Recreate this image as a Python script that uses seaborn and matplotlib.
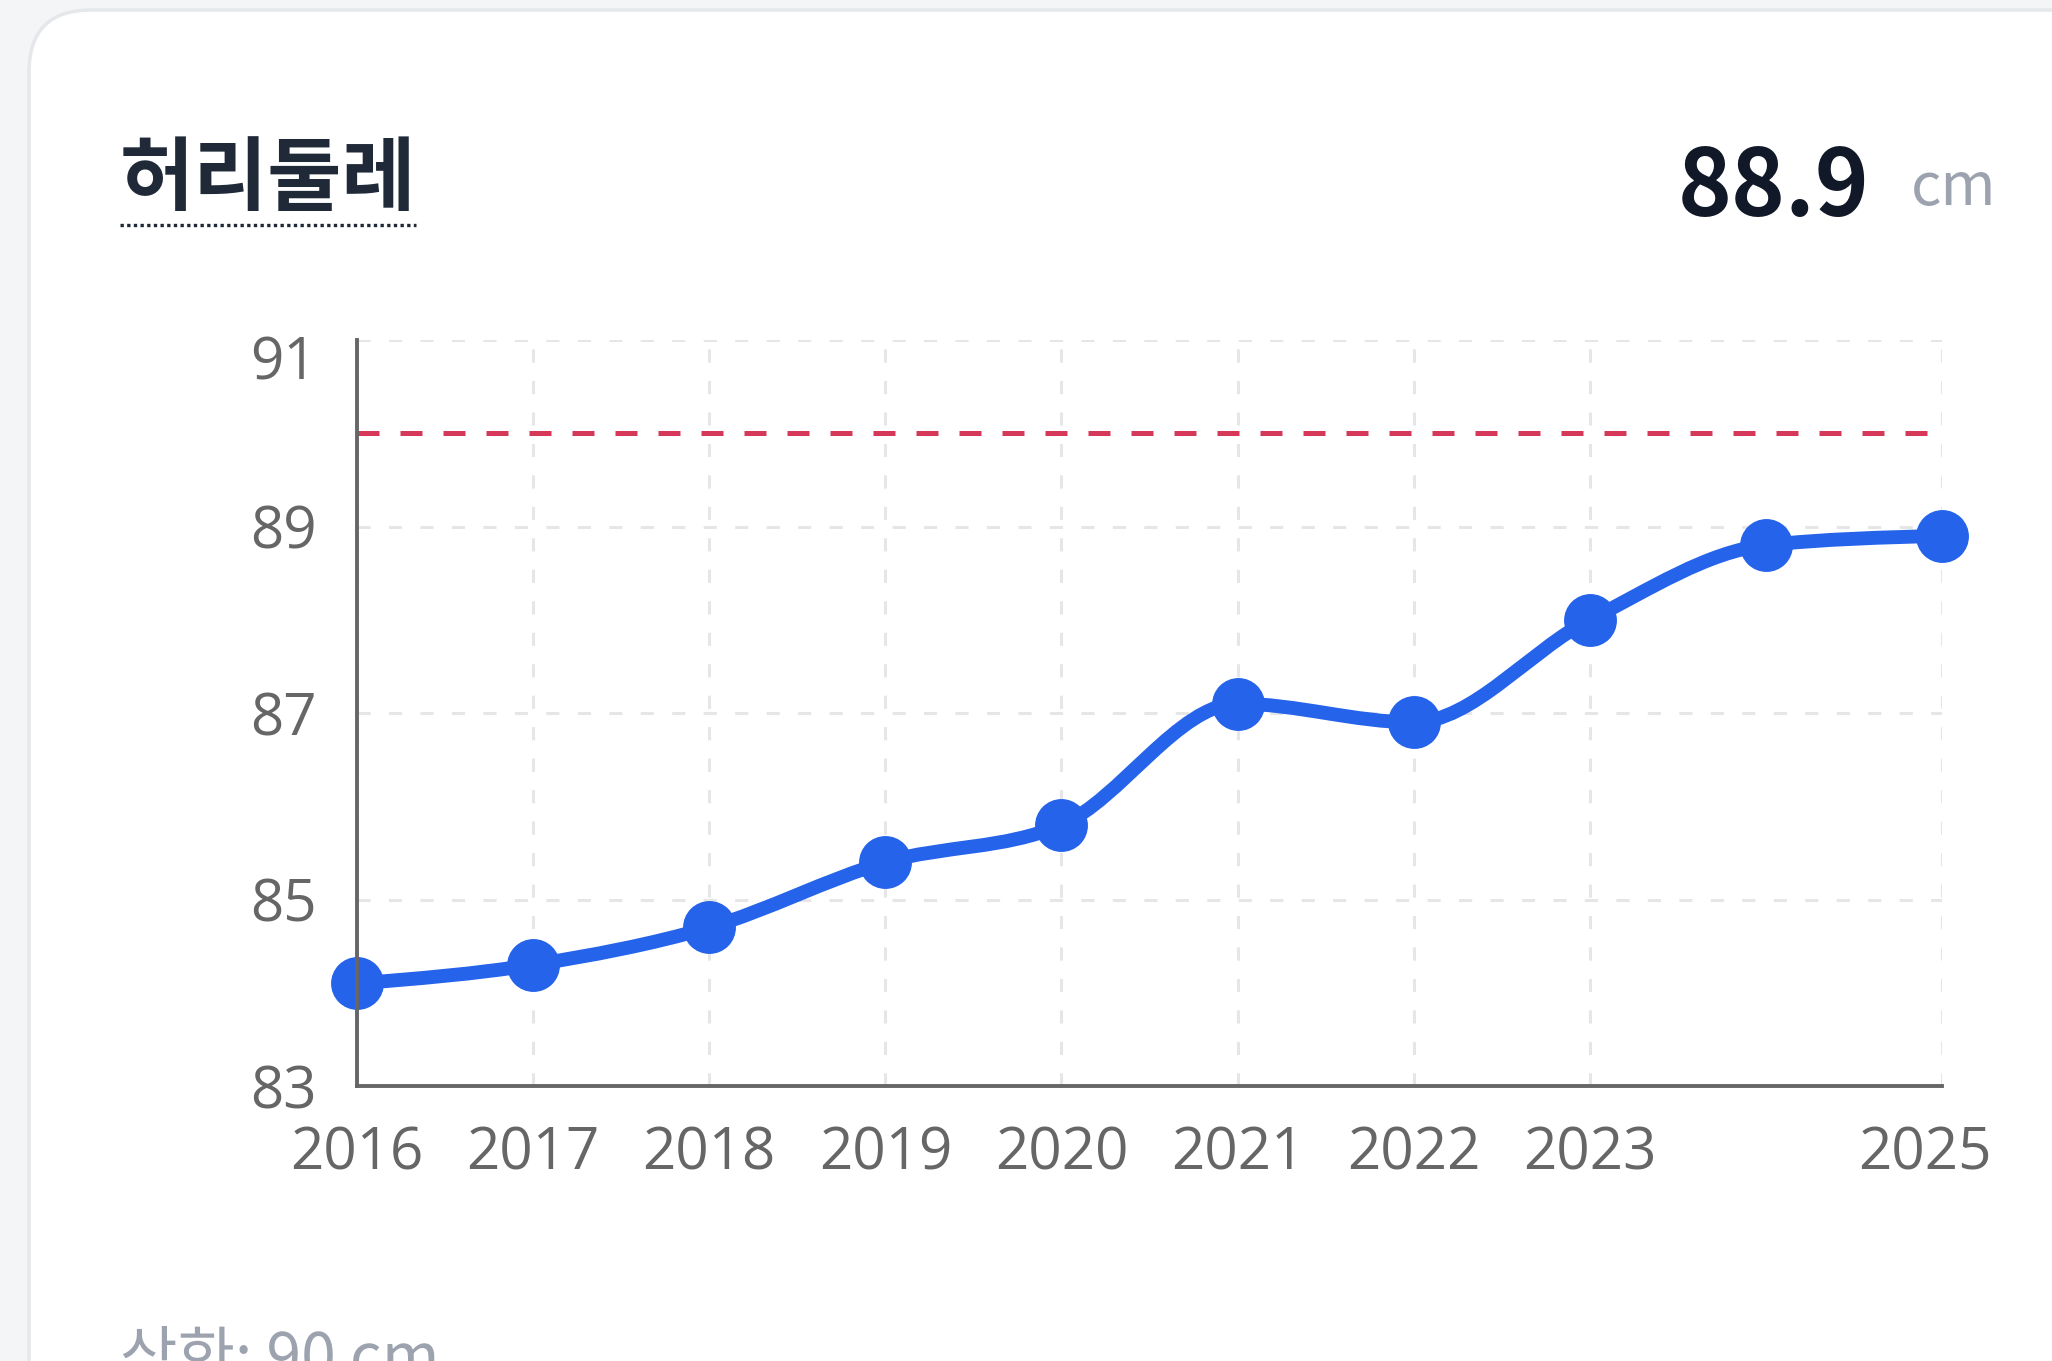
import numpy as np
import matplotlib
matplotlib.use("Agg")
import matplotlib.pyplot as plt
import matplotlib.transforms as mtransforms
import seaborn as sns
from matplotlib.path import Path
from matplotlib.patches import PathPatch, FancyBboxPatch
from matplotlib.lines import Line2D

# ------------------ Veri ------------------
years = [2016, 2017, 2018, 2019, 2020, 2021, 2022, 2023, 2024, 2025]
waist = [84.1, 84.3, 84.7, 85.4, 85.8, 87.1, 86.9, 88.0, 88.8, 88.9]
x_ticks = [2016, 2017, 2018, 2019, 2020, 2021, 2022, 2023, 2025]
y_ticks = [83, 85, 87, 89, 91]
upper_limit = 90

title = "허리둘레"
current_value = "88.9"
unit = "cm"
footer = "상한: 90 cm"

BLUE = "#2563eb"
RED = "#d6385a"
AXIS = "#666666"
GRID = "#e6e6e6"


# ------------------ Yumuşak eğri (monotone X) ------------------
def monotone_path(x, y):
    x = np.asarray(x, float)
    y = np.asarray(y, float)
    h = np.diff(x)
    s = np.diff(y) / h
    n = len(x)
    t = np.zeros(n)
    for i in range(1, n - 1):
        p = (s[i - 1] * h[i] + s[i] * h[i - 1]) / (h[i - 1] + h[i])
        t[i] = (np.sign(s[i - 1]) + np.sign(s[i])) * min(abs(s[i - 1]), abs(s[i]), 0.5 * abs(p))
    t[0] = (3 * s[0] - t[1]) / 2
    t[-1] = (3 * s[-1] - t[-2]) / 2
    verts = [(x[0], y[0])]
    codes = [Path.MOVETO]
    for i in range(n - 1):
        d = h[i] / 3
        verts += [(x[i] + d, y[i] + d * t[i]),
                  (x[i + 1] - d, y[i + 1] - d * t[i + 1]),
                  (x[i + 1], y[i + 1])]
        codes += [Path.CURVE4] * 3
    return Path(verts, codes)


# ------------------ Çizim ------------------
sns.set_style("white")
plt.rcParams["font.family"] = ["Noto Sans CJK KR", "DejaVu Sans"]

W, H, DPI = 2052, 1361, 100
fig = plt.figure(figsize=(W / DPI, H / DPI), dpi=DPI)
fig.patch.set_facecolor("#f4f5f7")

# kart arka planı
card = FancyBboxPatch((0.29, -1.0), 25.0, 13.51 + 1.0,
                      boxstyle="round,pad=0,rounding_size=0.62",
                      transform=fig.dpi_scale_trans, facecolor="white",
                      edgecolor="#e5e7eb", linewidth=2.5, zorder=0)
fig.add_artist(card)

ax = fig.add_axes([357 / W, 1 - 1086 / H, (1942 - 357) / W, (1086 - 340) / H])
ax.set_facecolor("none")

# ızgara
for xv in x_ticks:
    ax.axvline(xv, color=GRID, lw=2.2, ls=(0, (4.3, 6)), zorder=1)
for yv in y_ticks:
    ax.axhline(yv, color=GRID, lw=2.2, ls=(0, (4.3, 6)), zorder=1)

# üst sınır çizgisi
ax.axhline(upper_limit, color=RED, lw=3.6, ls=(0, (4.4, 4.2)), zorder=2)

# eğri + noktalar
ax.add_patch(PathPatch(monotone_path(years, waist), fill=False, edgecolor=BLUE,
                       lw=10, capstyle="round", joinstyle="round", zorder=3))
sns.scatterplot(x=years, y=waist, s=1450, color=BLUE, edgecolor=BLUE,
                linewidth=0, zorder=4, clip_on=False, ax=ax)

ax.set_xlim(2016, 2025)
ax.set_ylim(83, 91)
ax.set_xticks(x_ticks)
ax.set_yticks(y_ticks)
ax.set_xticklabels([str(v) for v in x_ticks])
ax.set_yticklabels([str(v) for v in y_ticks])
ax.set_xlabel("")
ax.set_ylabel("")

for side in ["top", "right"]:
    ax.spines[side].set_visible(False)
for side in ["left", "bottom"]:
    ax.spines[side].set_color(AXIS)
    ax.spines[side].set_linewidth(2.8)
    ax.spines[side].set_zorder(5)

ax.tick_params(axis="both", direction="out", length=21, width=2.8, color=AXIS,
               labelcolor=AXIS)
ax.tick_params(axis="y", pad=8)
ax.tick_params(axis="x", pad=7)
for lab in ax.get_xticklabels() + ax.get_yticklabels():
    lab.set_fontfamily(["Open Sans", "DejaVu Sans"])
    lab.set_fontsize(42)

# sınırdaki etiketleri içeri kaydır
ylabs = ax.get_yticklabels()
ylabs[-1].set_transform(ylabs[-1].get_transform() +
                        mtransforms.ScaledTranslation(0, -17 / DPI, fig.dpi_scale_trans))
xlabs = ax.get_xticklabels()
xlabs[-1].set_transform(xlabs[-1].get_transform() +
                        mtransforms.ScaledTranslation(-17 / DPI, 0, fig.dpi_scale_trans))

# başlık ve değer
fig.text(120 / W, 1 - 204 / H, title, fontsize=58, fontweight="bold",
         color="#1f2937", ha="left", va="baseline")
fig.add_artist(Line2D([120 / W, 416 / W], [1 - 225 / H, 1 - 225 / H],
                      transform=fig.transFigure, color="#1f2937", lw=2.4,
                      ls=(0, (1, 1))))
fig.text(1869 / W, 1 - 216 / H, current_value, fontsize=66, fontweight="bold",
         color="#111827", ha="right", va="baseline")
fig.text(1911 / W, 1 - 205 / H, unit, fontsize=43, color="#9ca3af",
         ha="left", va="baseline")
fig.text(120 / W, 1 - 1378 / H, footer, fontsize=45, color="#9ca3af",
         ha="left", va="baseline")

fig.savefig("out.png", dpi=DPI, facecolor=fig.get_facecolor())
